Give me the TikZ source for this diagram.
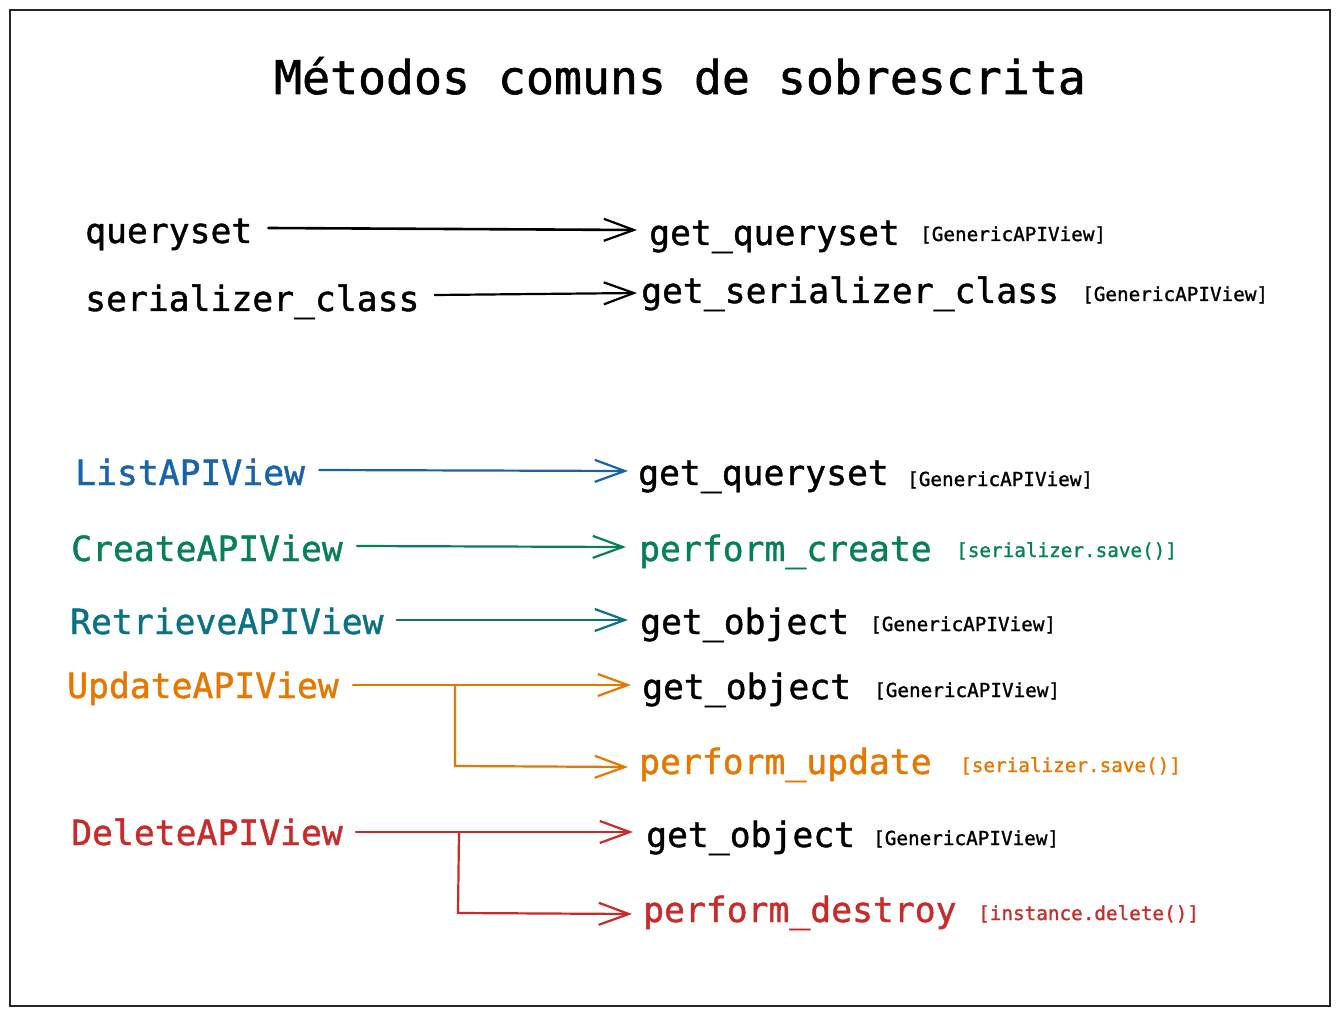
\documentclass[tikz,border=0pt]{standalone}
\usepackage{fontspec}
\setmainfont{DejaVu Sans Mono}[FakeBold=1.2]
\usetikzlibrary{arrows.meta}
\definecolor{cblue}{HTML}{1864AB}
\definecolor{cgreen}{HTML}{087F5B}
\definecolor{cteal}{HTML}{0B7285}
\definecolor{corange}{HTML}{E67700}
\definecolor{cred}{HTML}{C92A2A}
\tikzset{
  txt/.style={inner sep=0pt, anchor=base west, font=\fontsize{34.7}{40}\selectfont},
  note/.style={inner sep=0pt, anchor=base west, font=\fontsize{19.3}{22}\selectfont},
  arr/.style={line width=2.2pt, line cap=round, -{Straight Barb[length=30pt,width=22pt,line width=2.2pt]}}
}
\begin{document}
\begin{tikzpicture}[x=1pt,y=-1pt]
\useasboundingbox (0,0) rectangle (1339,1016);
\draw[line width=1.5pt, black!85] (10,10) rectangle (1330,1006);
\node[inner sep=0pt, anchor=base, font=\fontsize{46.5}{52}\selectfont] (title) at (680,94) {Métodos comuns de sobrescrita};

% top block
\node[txt] (qs) at (85,243) {queryset};
\node[txt] (gqs1) at (649,245) {get\_queryset};
\node[note] (n1) at (920,241) {[GenericAPIView]};
\node[txt] (sc) at (85,311) {serializer\_class};
\node[txt] (gsc) at (641,303) {get\_serializer\_class};
\node[note] (n2) at (1082,301) {[GenericAPIView]};
\draw[arr, line width=2.6pt] ([shift={(16,-15)}]qs.base east) -- ([shift={(-12,-15)}]gqs1.base west);
\draw[arr] ([shift={(15,-16)}]sc.base east) -- ([shift={(-4,-10)}]gsc.base west);

% List
\node[txt, text=cblue] (list) at (75,485) {ListAPIView};
\node[txt] (gqs2) at (638,485) {get\_queryset};
\node[note] (n3) at (907,486) {[GenericAPIView]};
\draw[arr, cblue] ([shift={(14,-15)}]list.base east) -- ([shift={(-10,-14)}]gqs2.base west);

% Create
\node[txt, text=cgreen] (create) at (71,561) {CreateAPIView};
\node[txt, text=cgreen] (pc) at (639,561) {perform\_create};
\node[note, text=cgreen] (n4) at (956,557) {[serializer.save()]};
\draw[arr, cgreen] ([shift={(14,-15)}]create.base east) -- ([shift={(-13,-14)}]pc.base west);

% Retrieve
\node[txt, text=cteal] (retr) at (70,634) {RetrieveAPIView};
\node[txt] (go1) at (640,634) {get\_object};
\node[note] (n5) at (870,631) {[GenericAPIView]};
\draw[arr, cteal] ([shift={(13,-14)}]retr.base east) -- ([shift={(-12,-14)}]go1.base west);

% Update
\node[txt, text=corange] (upd) at (67,698) {UpdateAPIView};
\node[txt] (go2) at (642,699) {get\_object};
\node[note] (n6) at (874,697) {[GenericAPIView]};
\node[txt, text=corange] (pu) at (639,774) {perform\_update};
\node[note, text=corange] (n7) at (960,772) {[serializer.save()]};
\draw[arr, corange] ([shift={(14,-13)}]upd.base east) -- ([shift={(-11,-14)}]go2.base west);
\coordinate (ub) at (455,685);
\draw[arr, corange] (ub) -- (455,766) -- ([shift={(-11,-7)}]pu.base west);

% Delete
\node[txt, text=cred] (del) at (71,845) {DeleteAPIView};
\node[txt] (go3) at (646,847) {get\_object};
\node[note] (n8) at (873,845) {[GenericAPIView]};
\node[txt, text=cred] (pd) at (643,922) {perform\_destroy};
\node[note, text=cred] (n9) at (978,920) {[instance.delete()]};
\draw[arr, cred] ([shift={(13,-13)}]del.base east) -- ([shift={(-13,-15)}]go3.base west);
\coordinate (db) at (459,832);
\draw[arr, cred] (db) -- (458,913) -- ([shift={(-11,-8)}]pd.base west);
\end{tikzpicture}
\end{document}
